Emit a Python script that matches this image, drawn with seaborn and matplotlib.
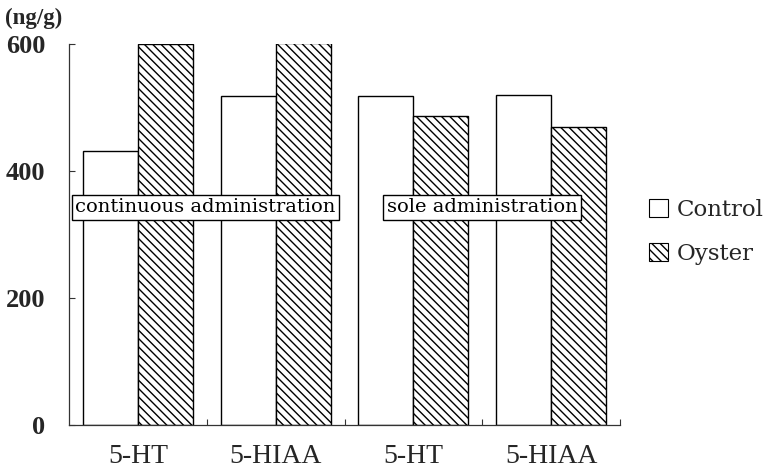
import matplotlib
matplotlib.use("Agg")
import matplotlib.pyplot as plt
import seaborn as sns
import pandas as pd
from matplotlib.patches import Patch

groups = ["g1", "g2", "g3", "g4"]
tick_labels = ["5-HT", "5-HIAA", "5-HT", "5-HIAA"]
series = ["Control", "Oyster"]
control = [432, 518, 518, 519]
oyster = [600, 601, 486, 470]
y_ticks = [0, 200, 400, 600]
box_labels = ["continuous administration", "sole administration"]
box_x = [0.49, 2.5]
box_y = [343, 343]
y_unit = "(ng/g)"

sns.set_theme(style="white")
plt.rcParams["hatch.linewidth"] = 1.0

df = pd.DataFrame({
    "group": groups * 2,
    "value": control + oyster,
    "series": [series[0]] * 4 + [series[1]] * 4,
})

fig = plt.figure(figsize=(7.64, 4.71), dpi=100)
ax = fig.add_axes([69 / 764, 1 - 425 / 471, (620 - 69) / 764, (425 - 44) / 471])

sns.barplot(data=df, x="group", y="value", hue="series", order=groups,
            hue_order=series, palette=["white", "white"], width=0.8,
            edgecolor="black", linewidth=1.0, ax=ax, legend=False)

for i, p in enumerate(ax.patches[:8]):
    if i >= 4:
        p.set_hatch("\\\\\\\\")
    p.set_edgecolor("black")

ax.set_xlim(-0.5, 3.5)
ax.set_ylim(0, 600)
ax.set_xlabel("")
ax.set_ylabel("")
for s in ["top", "right"]:
    ax.spines[s].set_visible(False)
for s in ["left", "bottom"]:
    ax.spines[s].set_color("#333333")
    ax.spines[s].set_linewidth(0.9)

ax.set_yticks(y_ticks)
ax.set_yticklabels([str(v) for v in y_ticks], fontfamily="Liberation Serif",
                   fontweight="bold", fontsize=19)
ax.tick_params(axis="y", direction="in", length=4, width=0.8, pad=17,
               left=True, color="#333333")
ax.set_xticks(range(4))
ax.set_xticklabels(tick_labels, fontfamily="Liberation Serif", fontsize=20)
ax.tick_params(axis="x", which="major", length=0, pad=14)
ax.set_xticks([0.5, 1.5, 2.5, 3.5], minor=True)
ax.tick_params(axis="x", which="minor", direction="in", length=4, width=0.8,
               bottom=True, color="#333333")

for lab, bx, by in zip(box_labels, box_x, box_y):
    ax.text(bx, by, lab, ha="center", va="center", fontfamily="DejaVu Serif",
            fontsize=14, color="black",
            bbox=dict(boxstyle="square,pad=0.18", facecolor="white",
                      edgecolor="black", linewidth=1.0))

fig.text(5 / 764, 1 - 18 / 471, y_unit, ha="left", va="center",
         fontfamily="Liberation Serif", fontweight="bold", fontsize=16.5)

handles = [Patch(facecolor="white", edgecolor="black", linewidth=0.8, label=series[0]),
           Patch(facecolor="white", edgecolor="black", linewidth=0.8,
                 hatch="\\\\\\\\", label=series[1])]
fig.legend(handles=handles, loc="upper left", bbox_to_anchor=(640 / 764, 1 - 190 / 471),
           frameon=False, prop={"family": "DejaVu Serif", "size": 16.5},
           handlelength=0.8, handleheight=0.8, handletextpad=0.4,
           labelspacing=0.95, borderaxespad=0)

fig.savefig("out.png", dpi=100)
